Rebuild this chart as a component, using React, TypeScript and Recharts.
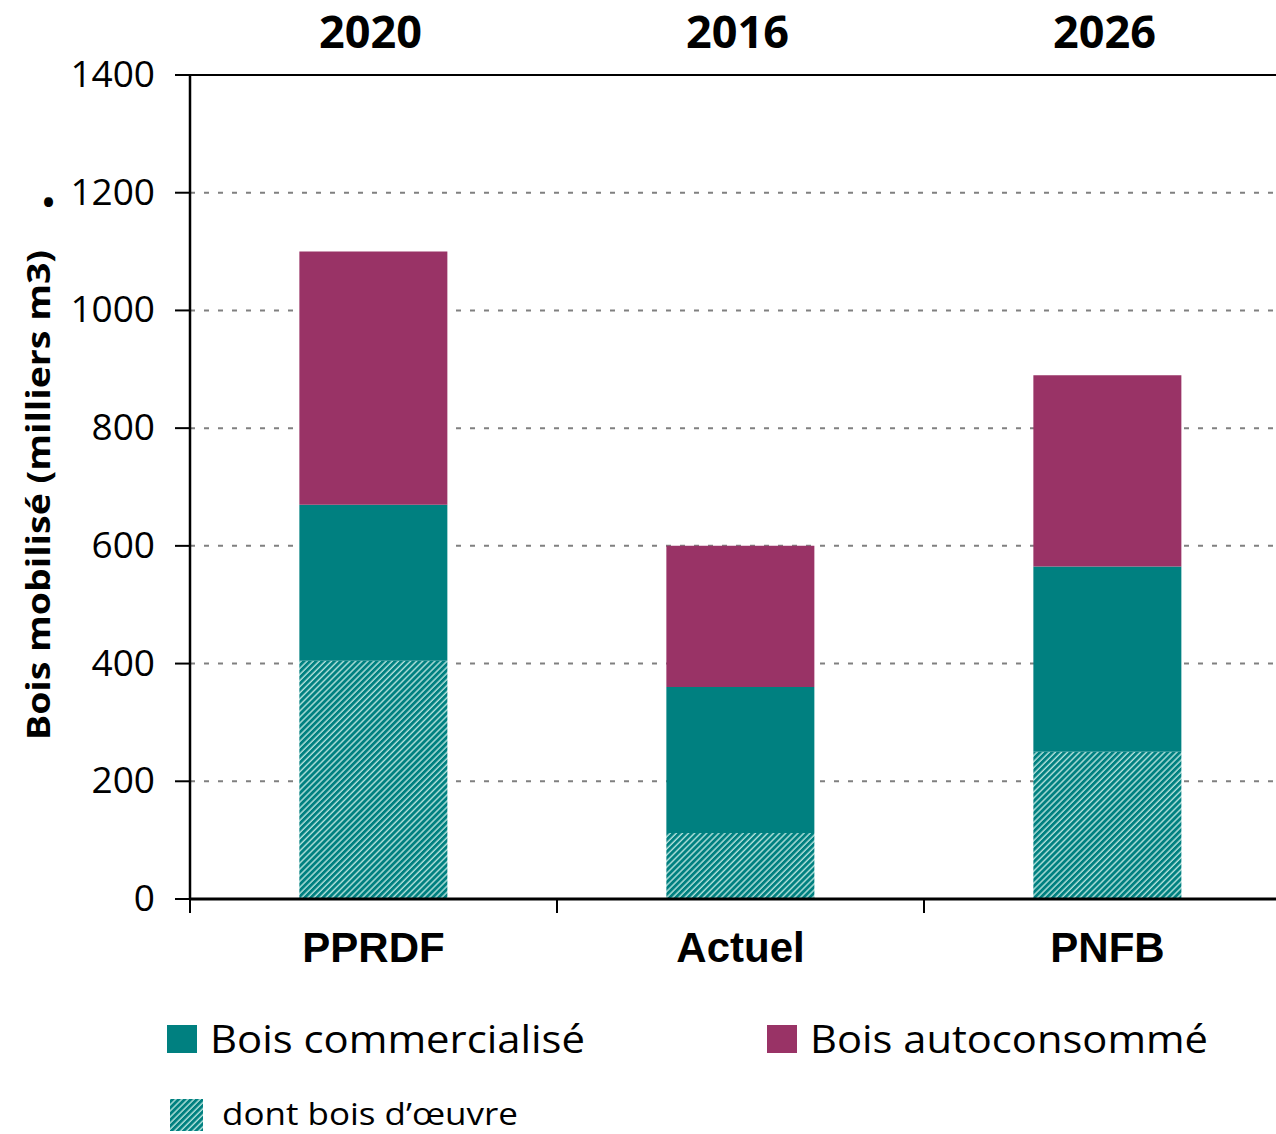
import React from "react";
import {
  BarChart,
  Bar,
  XAxis,
  YAxis,
  CartesianGrid,
  ReferenceLine,
} from "recharts";

const categories = ["PPRDF", "Actuel", "PNFB"];
const years = ["2020", "2016", "2026"];
const boisOeuvre = [405, 112, 250];
const boisCommercialise = [670, 360, 565];
const boisAutoconsomme = [430, 240, 325];
const yTicks = [0, 200, 400, 600, 800, 1000, 1200, 1400];

const TEAL = "#008080";
const PLUM = "#993366";

const data = categories.map((c, i) => ({
  name: c,
  year: years[i],
  oeuvre: boisOeuvre[i],
  commercialReste: boisCommercialise[i] - boisOeuvre[i],
  auto: boisAutoconsomme[i],
}));

const TopTick = (props: any) => {
  const { x, payload } = props;
  return (
    <text
      x={x - 3}
      y={48}
      textAnchor="middle"
      fontFamily="'Open Sans', sans-serif"
      fontWeight={700}
      fontSize={45}
      fill="#000"
    >
      {payload.value}
    </text>
  );
};

const BottomTick = (props: any) => {
  const { x, y, payload } = props;
  const half = payload && payload.offset ? payload.offset : 183.5;
  return (
    <g>
      <line x1={x - half} x2={x - half} y1={y - 12} y2={y + 2} stroke="#000" strokeWidth={2} />
      <text
        x={x}
        y={962}
        textAnchor="middle"
        fontFamily="'Liberation Sans', Arial, sans-serif"
        fontWeight={700}
        fontSize={42}
        fill="#000"
      >
        {payload.value}
      </text>
    </g>
  );
};

const YTick = (props: any) => {
  const { y, payload } = props;
  return (
    <text
      x={155}
      y={y}
      dy={12}
      textAnchor="end"
      fontFamily="'Open Sans', sans-serif"
      fontSize={37}
      fill="#000"
    >
      {payload.value}
    </text>
  );
};

const YLabel = () => (
  <g>
    <text
      transform="translate(50,495) rotate(-90)"
      textAnchor="middle"
      fontFamily="'Open Sans', sans-serif"
      fontWeight={700}
      fontSize={33}
      fill="#000"
      textLength={490}
      lengthAdjust="spacingAndGlyphs"
    >
      Bois mobilisé (milliers m3)
    </text>
    <text
      transform="translate(53,202) rotate(-90)"
      textAnchor="middle"
      fontFamily="'Open Sans', sans-serif"
      fontWeight={800}
      fontSize={48}
      fill="#000"
    >
      .
    </text>
  </g>
);

export default function App() {
  return (
    <div
      style={{
        position: "fixed",
        left: 0,
        top: 0,
        width: 1276,
        height: 1134,
        overflow: "hidden",
        background: "#fff",
      }}
    >
      <BarChart
        width={1291}
        height={1000}
        data={data}
        margin={{ top: 0, right: 0, bottom: 0, left: 0 }}
        barCategoryGap="29.8%"
      >
        <defs>
          <pattern
            id="hatch"
            width={4.3}
            height={4.3}
            patternUnits="userSpaceOnUse"
            patternTransform="rotate(45)"
          >
            <rect width={4.3} height={4.3} fill={TEAL} />
            <line x1={1} y1={0} x2={1} y2={4.3} stroke="#b3e2dc" strokeWidth={1.4} />
          </pattern>
        </defs>
        <CartesianGrid
          vertical={false}
          stroke="#808080"
          strokeWidth={2}
          strokeDasharray="5 9"
        />
        <XAxis
          xAxisId="top"
          orientation="top"
          dataKey="year"
          height={75}
          axisLine={false}
          tickLine={false}
          tick={<TopTick />}
          interval={0}
        />
        <XAxis
          dataKey="name"
          height={101}
          axisLine={{ stroke: "#000", strokeWidth: 3 }}
          tickLine={false}
          tick={<BottomTick />}
          tickSize={0}
          tickMargin={12}
          interval={0}
        />
        <YAxis
          width={190}
          domain={[0, 1400]}
          ticks={yTicks}
          interval={0}
          axisLine={{ stroke: "#000", strokeWidth: 2.5 }}
          tickLine={{ stroke: "#000", strokeWidth: 2 }}
          tickSize={15}
          tick={<YTick />}
          label={<YLabel />}
        />
        <ReferenceLine y={1400} stroke="#000" strokeWidth={2} />
        <Bar dataKey="oeuvre" stackId="a" fill="url(#hatch)" isAnimationActive={false} />
        <Bar dataKey="commercialReste" stackId="a" fill={TEAL} isAnimationActive={false} />
        <Bar dataKey="auto" stackId="a" fill={PLUM} isAnimationActive={false} />
      </BarChart>
      <svg
        style={{ position: "absolute", left: 0, top: 1000 }}
        width={1276}
        height={134}
      >
        <defs>
          <pattern
            id="hatchLegend"
            width={4.3}
            height={4.3}
            patternUnits="userSpaceOnUse"
            patternTransform="rotate(45)"
          >
            <rect width={4.3} height={4.3} fill={TEAL} />
            <line x1={1} y1={0} x2={1} y2={4.3} stroke="#b3e2dc" strokeWidth={1.4} />
          </pattern>
        </defs>
        <rect x={167} y={25} width={30} height={28} fill={TEAL} />
        <text
          x={210}
          y={53}
          fontFamily="'Open Sans', sans-serif"
          fontSize={39}
          fill="#000"
          textLength={375}
          lengthAdjust="spacingAndGlyphs"
        >
          Bois commercialisé
        </text>
        <rect x={767} y={25} width={30} height={28} fill={PLUM} />
        <text
          x={810}
          y={53}
          fontFamily="'Open Sans', sans-serif"
          fontSize={39}
          fill="#000"
          textLength={398}
          lengthAdjust="spacingAndGlyphs"
        >
          Bois autoconsommé
        </text>
        <rect x={170} y={99} width={33} height={32} fill="url(#hatchLegend)" />
        <text
          x={222}
          y={125}
          fontFamily="'Open Sans', sans-serif"
          fontSize={31}
          fill="#000"
          textLength={296}
          lengthAdjust="spacingAndGlyphs"
        >
          dont bois d’œuvre
        </text>
      </svg>
    </div>
  );
}
